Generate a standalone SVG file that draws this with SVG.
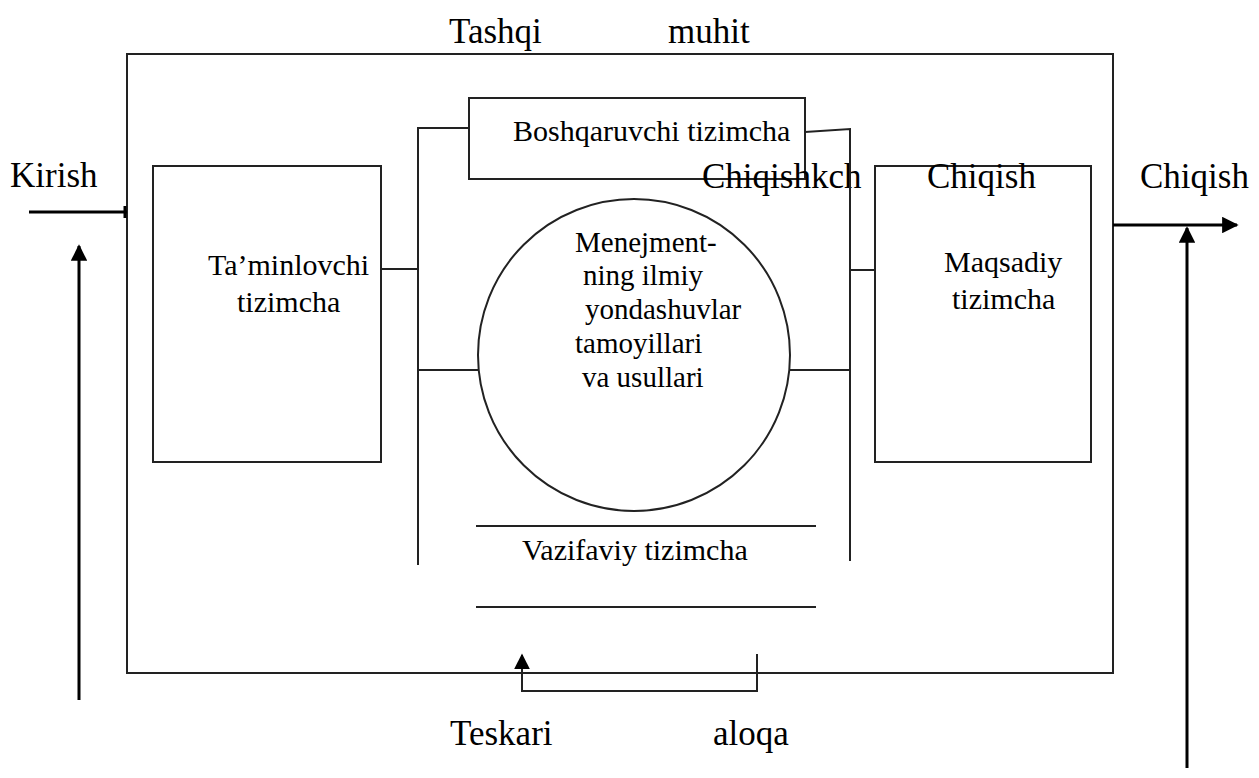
<svg xmlns="http://www.w3.org/2000/svg" width="1259" height="778" viewBox="0 0 1259 778">
<defs>
<style>
.t{font-family:"Liberation Serif","Times New Roman",serif;fill:#000}
.big{font-size:35px}
.mid{font-size:30px}
.sm{font-size:29px}
.ln{stroke:#222;stroke-width:2;fill:none}
.ar{stroke:#000;stroke-width:3;fill:none}
</style>
<marker id="ah" viewBox="0 0 10 10" refX="9" refY="5" markerWidth="5.5" markerHeight="5.5" orient="auto" markerUnits="strokeWidth">
<path d="M0,0 L10,5 L0,10 z" fill="#000"/>
</marker>
<marker id="ahs" viewBox="0 0 10 10" refX="9" refY="5" markerWidth="8" markerHeight="8" orient="auto" markerUnits="strokeWidth">
<path d="M0,0 L10,5 L0,10 z" fill="#000"/>
</marker>
</defs>
<rect width="1259" height="778" fill="#fff"/>

<g id="environment">
<rect x="127" y="54" width="986" height="619" class="ln"/>
<text class="t big" x="449" y="43">Tashqi</text>
<text class="t big" x="668" y="43">muhit</text>
</g>

<g id="supply">
<rect x="153" y="166" width="228" height="296" class="ln"/>
<text class="t mid" x="208" y="275">Ta’minlovchi</text>
<text class="t mid" x="237" y="312">tizimcha</text>
</g>

<g id="control">
<rect x="469" y="98" width="336" height="81" class="ln"/>
<text class="t mid" x="513" y="141">Boshqaruvchi tizimcha</text>
</g>

<g id="core">
<circle cx="634" cy="355" r="156" class="ln"/>
<text class="t sm" x="575" y="252">Menejment-</text>
<text class="t sm" x="583" y="285">ning ilmiy</text>
<text class="t sm" x="585" y="319">yondashuvlar</text>
<text class="t sm" x="575" y="353">tamoyillari</text>
<text class="t sm" x="582" y="387">va usullari</text>
</g>

<g id="target">
<rect x="875" y="166" width="216" height="296" class="ln"/>
<text class="t mid" x="944" y="272">Maqsadiy</text>
<text class="t mid" x="952" y="309">tizimcha</text>
</g>

<g id="functional">
<line x1="476" y1="526" x2="816" y2="526" class="ln"/>
<line x1="476" y1="607" x2="816" y2="607" class="ln"/>
<text class="t mid" x="522" y="560">Vazifaviy tizimcha</text>
</g>

<g id="labels">
<text class="t big" x="10" y="187">Kirish</text>
<text class="t big" x="702" y="188">Chiqishkch</text>
<text class="t big" x="927" y="188">Chiqish</text>
<text class="t big" x="1140" y="188">Chiqish</text>
<text class="t big" x="450" y="745">Teskari</text>
<text class="t big" x="713" y="745">aloqa</text>
</g>

<g id="connectors">
<polyline points="469,128 418,128 418,565" class="ln"/>
<line x1="381" y1="269" x2="418" y2="269" class="ln"/>
<line x1="418" y1="370" x2="478" y2="370" class="ln"/>
<polyline points="805,132 850,129 850,561" class="ln"/>
<line x1="850" y1="270" x2="875" y2="270" class="ln"/>
<line x1="790" y1="370" x2="850" y2="370" class="ln"/>
<polyline points="757,654 757,691 522,691 522,655" class="ln" marker-end="url(#ahs)"/>
<line x1="29" y1="212" x2="127" y2="212" class="ar"/>
<line x1="125" y1="206" x2="125" y2="218" stroke="#000" stroke-width="3"/>
<line x1="79" y1="700" x2="79" y2="246" class="ar" marker-end="url(#ah)"/>
<line x1="1113" y1="225" x2="1237" y2="225" class="ar" marker-end="url(#ah)"/>
<line x1="1187" y1="768" x2="1187" y2="228" class="ar" marker-end="url(#ah)"/>
</g>
</svg>
